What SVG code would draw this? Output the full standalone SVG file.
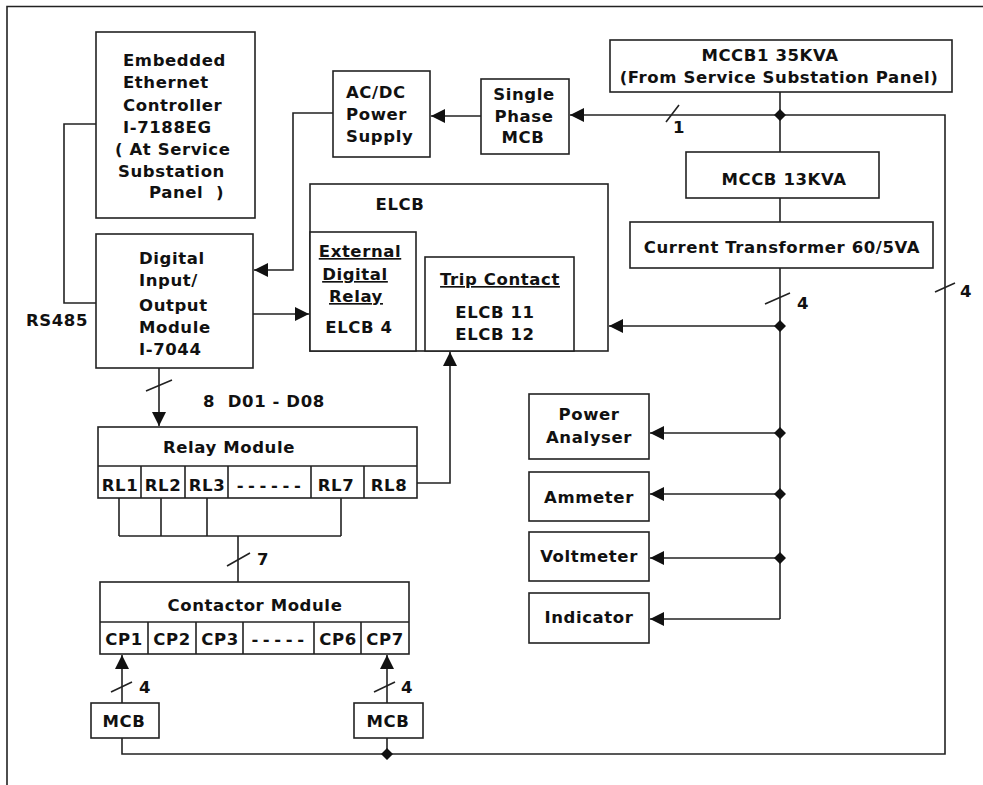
<svg xmlns="http://www.w3.org/2000/svg" width="983" height="785" viewBox="0 0 983 785">
<style>
text{font-family:"DejaVu Sans",Verdana,sans-serif;font-weight:bold;font-size:16.5px;letter-spacing:0.6px;fill:#111}
.m{text-anchor:middle}
.u{text-decoration:underline}
.d{letter-spacing:4.6px}
.box{fill:#fff;stroke:#222;stroke-width:1.6}
.ln{fill:none;stroke:#222;stroke-width:1.6}
.arr{fill:none;stroke:#222;stroke-width:1.6;marker-end:url(#ah)}
.dot{fill:#111}
</style>
<defs>
<marker id="ah" markerUnits="userSpaceOnUse" markerWidth="15" markerHeight="15" refX="14" refY="7.5" orient="auto">
<path d="M0,0.5 L14,7.5 L0,14.5 z" fill="#111"/>
</marker>
</defs>
<rect width="983" height="785" fill="#fff"/>
<path class="ln" d="M7,785 V6.5 H983"/>

<g id="embedded">
<rect class="box" x="96" y="32" width="159" height="186"/>
<text x="123" y="66">Embedded</text>
<text x="123" y="88">Ethernet</text>
<text x="123" y="111">Controller</text>
<text x="123" y="133">I-7188EG</text>
<text x="115" y="155">( At Service</text>
<text x="118" y="177">Substation</text>
<text x="149" y="198" xml:space="preserve">Panel  )</text>
</g>
<g id="dio">
<rect class="box" x="96" y="234" width="157" height="134"/>
<text x="139" y="264">Digital</text>
<text x="139" y="286">Input/</text>
<text x="139" y="311">Output</text>
<text x="139" y="333">Module</text>
<text x="139" y="355">I-7044</text>
</g>
<g id="rs485"><text class="m" x="57" y="326">RS485</text></g>
<g id="acdc">
<rect class="box" x="333" y="71" width="97" height="86"/>
<text x="346" y="98">AC/DC</text>
<text x="346" y="120">Power</text>
<text x="346" y="142">Supply</text>
</g>
<g id="spmcb">
<rect class="box" x="481" y="79" width="88" height="75"/>
<text class="m" x="524" y="100">Single</text>
<text class="m" x="524" y="122">Phase</text>
<text class="m" x="523" y="143">MCB</text>
</g>
<g id="mccb1">
<rect class="box" x="610" y="40" width="342" height="52"/>
<text class="m" x="770" y="61">MCCB1 35KVA</text>
<text class="m" x="779" y="83">(From Service Substation Panel)</text>
</g>
<g id="mccb13">
<rect class="box" x="686" y="152" width="193" height="46"/>
<text class="m" x="784" y="185">MCCB 13KVA</text>
</g>
<g id="ct">
<rect class="box" x="630" y="222" width="303" height="46"/>
<text class="m" x="782" y="253">Current Transformer 60/5VA</text>
</g>
<g id="elcb">
<rect class="box" x="310" y="184" width="298" height="167"/>
<text class="m" x="400" y="210">ELCB</text>
</g>
<g id="extrelay">
<rect class="box" x="310" y="232" width="106" height="119"/>
<text class="m u" x="360" y="257">External </text>
<text class="m u" x="355" y="280">Digital</text>
<text class="m u" x="356" y="302">Relay</text>
<text class="m" x="359" y="333">ELCB 4</text>
</g>
<g id="trip">
<rect class="box" x="425" y="257" width="149" height="94"/>
<text class="m u" x="500" y="285">Trip Contact</text>
<text class="m" x="495" y="318">ELCB 11</text>
<text class="m" x="495" y="340">ELCB 12</text>
</g>
<g id="relay">
<rect class="box" x="98" y="427" width="319" height="71"/>
<line class="ln" x1="98" y1="466" x2="417" y2="466"/>
<path class="ln" d="M141,466V498M185,466V498M228,466V498M311,466V498M364,466V498"/>
<text class="m" x="229" y="453">Relay Module</text>
<text class="m" x="120" y="491">RL1</text>
<text class="m" x="163" y="491">RL2</text>
<text class="m" x="207" y="491">RL3</text>
<text class="m d" x="271" y="491">------</text>
<text class="m" x="336" y="491">RL7</text>
<text class="m" x="389" y="491">RL8</text>
</g>
<g id="contactor">
<rect class="box" x="100" y="582" width="309" height="72"/>
<line class="ln" x1="100" y1="622" x2="409" y2="622"/>
<path class="ln" d="M148,622V654M196,622V654M243,622V654M314,622V654M361,622V654"/>
<text class="m" x="255" y="611">Contactor Module</text>
<text class="m" x="124" y="645">CP1</text>
<text class="m" x="172" y="645">CP2</text>
<text class="m" x="220" y="645">CP3</text>
<text class="m d" x="280" y="645">-----</text>
<text class="m" x="338" y="645">CP6</text>
<text class="m" x="385" y="645">CP7</text>
</g>
<g id="mcb1">
<rect class="box" x="91" y="703" width="68" height="35"/>
<text class="m" x="124" y="727">MCB</text>
</g>
<g id="mcb2">
<rect class="box" x="354" y="703" width="69" height="35"/>
<text class="m" x="388" y="727">MCB</text>
</g>
<g id="pa">
<rect class="box" x="529" y="394" width="120" height="65"/>
<text class="m" x="589" y="420">Power</text>
<text class="m" x="589" y="443">Analyser</text>
</g>
<g id="ammeter">
<rect class="box" x="529" y="472" width="120" height="49"/>
<text class="m" x="589" y="503">Ammeter</text>
</g>
<g id="voltmeter">
<rect class="box" x="529" y="532" width="120" height="49"/>
<text class="m" x="589" y="562">Voltmeter</text>
</g>
<g id="indicator">
<rect class="box" x="529" y="593" width="120" height="50"/>
<text class="m" x="589" y="623">Indicator</text>
</g>

<g id="connectors">
<line class="ln" x1="780" y1="92" x2="780" y2="152"/>
<line class="ln" x1="780" y1="198" x2="780" y2="222"/>
<path class="arr" d="M780,115 H570"/>
<path class="ln" d="M780,115 H945 V754 H122 V738"/>
<line class="ln" x1="387" y1="754" x2="387" y2="738"/>
<path class="arr" d="M481,116 H431"/>
<path class="arr" d="M333,113 H293 V270 H254"/>
<path class="ln" d="M96,124 H64 V303 H96"/>
<path class="arr" d="M253,314 H309"/>
<path class="arr" d="M159,368 V426"/>
<path class="arr" d="M417,483 H450 V352"/>
<path class="ln" d="M780,268 V619"/>
<path class="arr" d="M780,326 H609"/>
<path class="arr" d="M780,433 H650"/>
<path class="arr" d="M780,494 H650"/>
<path class="arr" d="M780,558 H650"/>
<path class="arr" d="M780,619 H650"/>
<path class="ln" d="M119,498 V536 M161,498 V536 M207,498 V536 M341,498 V536 M119,536 H341 M238,536 V582"/>
<path class="arr" d="M122,703 V655"/>
<path class="arr" d="M387,703 V655"/>
<path class="dot" d="M780,109 l6,6 l-6,6 l-6,-6 z M780,320 l6,6 l-6,6 l-6,-6 z M780,427 l6,6 l-6,6 l-6,-6 z M780,488 l6,6 l-6,6 l-6,-6 z M780,552 l6,6 l-6,6 l-6,-6 z M387,748 l6,6 l-6,6 l-6,-6 z"/>
<path class="ln" d="M666,122 L679,105 M765,304 L790,293 M935,292 L955,283 M146,391 L172,380 M227,566 L250,553 M111,692 L132,682 M374,692 L395,682"/>
<text x="673" y="133">1</text>
<text x="797" y="309">4</text>
<text x="960" y="297">4</text>
<text x="203" y="407" xml:space="preserve">8  D01 - D08</text>
<text x="257" y="565">7</text>
<text x="139" y="693">4</text>
<text x="401" y="693">4</text>
</g>
</svg>
